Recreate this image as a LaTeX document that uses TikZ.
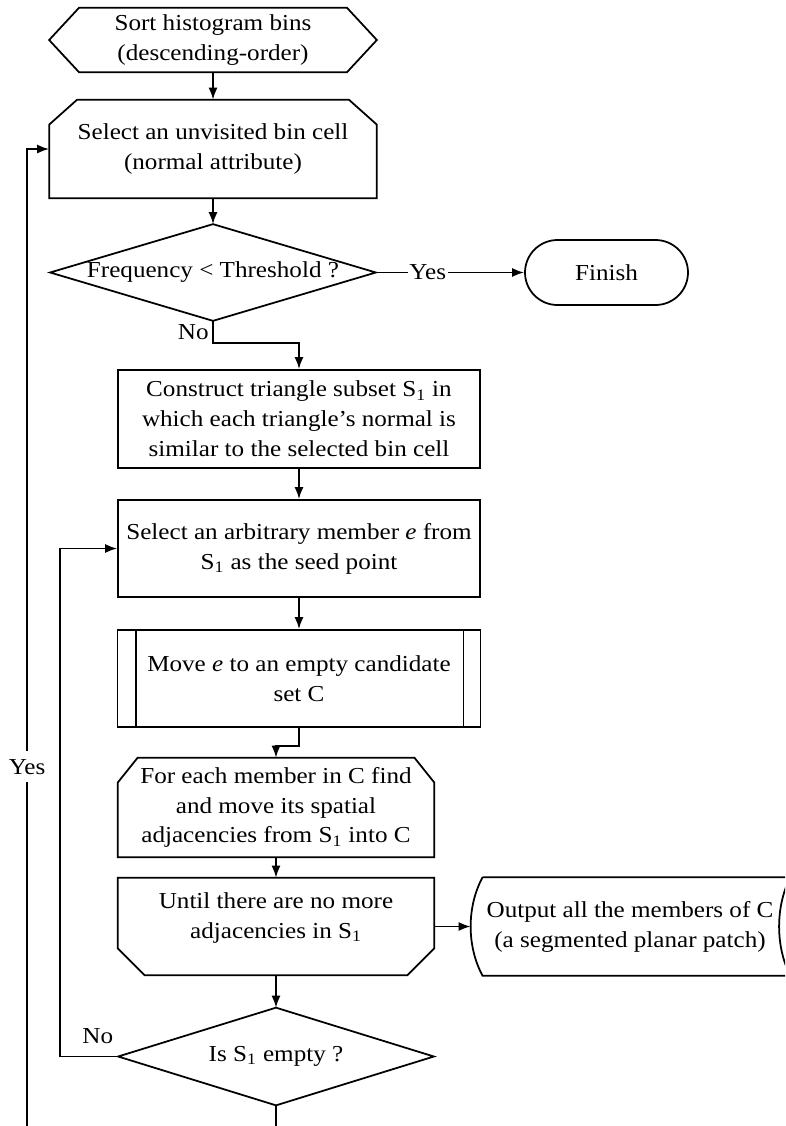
\documentclass[tikz,border=0pt]{standalone}
\usepackage{fontspec}
\setmainfont{Liberation Serif}[FakeStretch=1.1]
\usetikzlibrary{arrows.meta,calc,shapes.misc}

\tikzset{
  frame/.style={line width=1pt,color=black},
  arr/.style={frame,-{Latex[length=0.24cm,width=0.18cm]}},
  sz/.style 2 args={minimum width=#1*0.02cm,minimum height=#2*0.02cm},
}

\begin{document}
\begin{tikzpicture}[x=0.02cm,y=-0.02cm,
  every node/.style={font=\fontsize{13}{17}\selectfont,align=center,inner sep=0pt}]
\useasboundingbox (0,0) rectangle (785,1126);
\clip (0,0) rectangle (785,1126);

\node[sz={327}{64}] (sort) at (213,40) {Sort histogram bins\\(descending-order)};
\draw[frame] (sort.west) -- ($(sort.north west)+(30,0)$) -- ($(sort.north east)+(-30,0)$) -- (sort.east)
  -- ($(sort.south east)+(-30,0)$) -- ($(sort.south west)+(30,0)$) -- cycle;

\node[sz={327}{98}] (pick) at (213,149) {Select an unvisited bin cell\\(normal attribute)};
\draw[frame] ($(pick.north west)+(0,25)$) -- ($(pick.north west)+(28,0)$) -- ($(pick.north east)+(-28,0)$)
  -- ($(pick.north east)+(0,25)$) -- (pick.south east) -- (pick.south west) -- cycle;

\node[sz={325}{96}] (freq) at (213,272.5) {Frequency < Threshold ?};
\draw[frame] (freq.west) -- (freq.north) -- (freq.east) -- (freq.south) -- cycle;

\node[draw,frame,rounded rectangle,sz={163}{65}] (finish) at (606.5,272.5) {Finish};

\node[draw,frame,sz={362}{98}] (construct) at (299,419)
  {Construct triangle subset S\textsubscript{1} in\\which each triangle’s normal is\\similar to the selected bin cell};

\node[draw,frame,sz={362}{97}] (seed) at (299,548.5)
  {Select an arbitrary member \textit{e} from\\S\textsubscript{1} as the seed point};

\node[draw,frame,sz={363}{97}] (move) at (299,678.5) {Move \textit{e} to an empty candidate\\set C};
\draw[frame] ($(move.north west)+(19,0)$) -- ($(move.south west)+(19,0)$)
  ($(move.north east)+(-18,0)$) -- ($(move.south east)+(-18,0)$);

\node[sz={316}{99}] (gather) at (276,807.5)
  {For each member in C find\\and move its spatial\\adjacencies from S\textsubscript{1} into C};
\draw[frame] ($(gather.north west)+(0,25)$) -- ($(gather.north west)+(20,0)$) -- ($(gather.north east)+(-20,0)$)
  -- ($(gather.north east)+(0,25)$) -- (gather.south east) -- (gather.south west) -- cycle;

\node[sz={316}{97}] (until) at (276,926.5)
  {\raisebox{0.18cm}[\height][\depth]{\begin{tabular}{@{}c@{}}Until there are no more\\adjacencies in S\textsubscript{1}\end{tabular}}};
\draw[frame] (until.north west) -- (until.north east) -- ($(until.south east)+(0,-27)$) -- ($(until.south east)+(-27,0)$)
  -- ($(until.south west)+(27,0)$) -- ($(until.south west)+(0,-27)$) -- cycle;

\node[sz={294}{98}] (output) at (630,926.5) {Output all the members of C\\(a segmented planar patch)};
\draw[frame] (output.north west) -- ($(output.north east)+(13,0)$)
  .. controls ($(output.east)+(-2,-20)$) and ($(output.east)+(-2,20)$) .. ($(output.south east)+(13,0)$)
  -- (output.south west)
  .. controls ($(output.west)+(-16,20)$) and ($(output.west)+(-16,-20)$) .. (output.north west);
\coordinate (outtip) at ($(output.west)+(-12,0)$);

\node[sz={315}{97}] (empty) at (276,1056.5) {Is S\textsubscript{1} empty ?};
\draw[frame] (empty.west) -- (empty.north) -- (empty.east) -- (empty.south) -- cycle;

\draw[arr] (sort) -- (pick);
\draw[arr] (pick) -- (freq);
\draw[arr] (freq) -- node[pos=.35,fill=white,inner xsep=1pt]{Yes} (finish);
\draw[arr] (freq.south) -- node[left=2pt]{No} ++(0,22) -| (construct.north);
\draw[arr] (construct) -- (seed);
\draw[arr] (seed) -- (move);
\draw[arr] (move.south) -- ++(0,18) -| (gather.north);
\draw[arr] (gather) -- (until);
\draw[arr] (until.east) -- (outtip);
\draw[arr] (until) -- (empty);
\draw[arr] (empty.west) -- node[pos=.35,above=7pt]{No} ++(-58,0) |- (seed.west);
\draw[arr] (empty.south) -- ++(0,40) -| node[pos=.69,fill=white,inner ysep=.16cm]{Yes}
  ($(pick.west)+(-22,0)$) -- (pick.west);

\end{tikzpicture}
\end{document}
